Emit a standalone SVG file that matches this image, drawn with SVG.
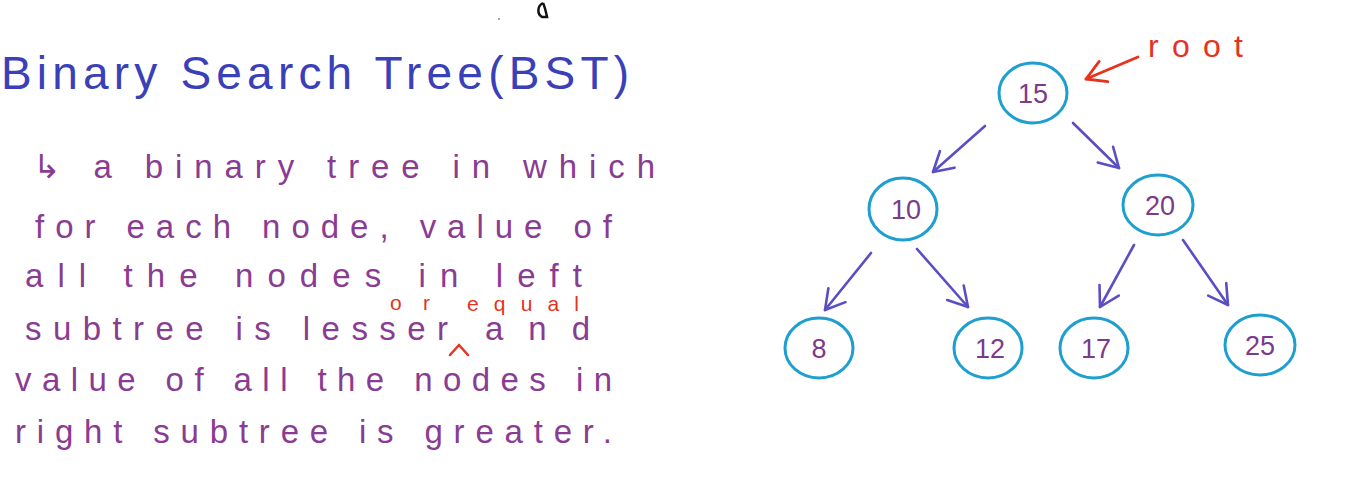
<svg xmlns="http://www.w3.org/2000/svg" width="1355" height="486" viewBox="0 0 1355 486">
<style>
.title{font-family:"Liberation Sans",sans-serif;font-size:46px;fill:#3a40b8}
.body{font-family:"Liberation Sans","DejaVu Sans",sans-serif;font-size:33px;fill:#8a3c92}
.red{font-family:"Liberation Sans",sans-serif;font-size:21px;fill:#e5331f}
.node ellipse{fill:#fff;stroke:#1f9fcf;stroke-width:3}
.node text{font-family:"Liberation Sans",sans-serif;font-size:27px;fill:#7b3a8a;text-anchor:middle}
.edge{stroke:#5a4ec4;stroke-width:2.6;fill:none;stroke-linecap:round;marker-end:url(#ah)}
</style>
<defs>
<marker id="ah" markerUnits="userSpaceOnUse" markerWidth="26" markerHeight="26" viewBox="-24 -13 26 26" refX="0" refY="0" orient="auto">
<path d="M-19,-11 L0,0 L-19,11" fill="none" stroke="#5a4ec4" stroke-width="2.6" stroke-linecap="round" stroke-linejoin="round"/>
</marker>
<marker id="ahr" markerUnits="userSpaceOnUse" markerWidth="26" markerHeight="26" viewBox="-24 -13 26 26" refX="0" refY="0" orient="auto">
<path d="M-19,-11 L0,0 L-19,11" fill="none" stroke="#e5331f" stroke-width="2.8" stroke-linecap="round" stroke-linejoin="round"/>
</marker>
</defs>
<rect width="1355" height="486" fill="#fff"/>
<path d="M543,3 C537,6 537,14 542,17 L547,17 C546,12 545,7 543,3" fill="none" stroke="#111" stroke-width="2.5"/>
<circle cx="499" cy="19" r="1" fill="#888"/>
<g id="text-block">
<text class="title" x="1" y="89" textLength="628" lengthAdjust="spacing">Binary Search Tree(BST)</text>
<text class="body" x="33" y="178" textLength="622" lengthAdjust="spacing">↳ a binary tree in which</text>
<text class="body" x="35" y="238" textLength="577" lengthAdjust="spacing">for each node, value of</text>
<text class="body" x="25" y="287" textLength="557" lengthAdjust="spacing">all the nodes in left</text>
<text class="body" x="25" y="340" textLength="423" lengthAdjust="spacing">subtree is lesser</text>
<text class="body" x="485" y="340" textLength="105" lengthAdjust="spacing">and</text>
<text class="body" x="15" y="391" textLength="597" lengthAdjust="spacing">value of all the nodes in</text>
<text class="body" x="15" y="443" textLength="597" lengthAdjust="spacing">right subtree is greater.</text>
<text class="red" x="390" y="310" textLength="40" lengthAdjust="spacing">or</text>
<text class="red" x="467" y="311" textLength="112" lengthAdjust="spacing">equal</text>
<polyline points="450,355 459,345 468,355" fill="none" stroke="#e5331f" stroke-width="2.5" stroke-linecap="round"/>
</g>
<g id="connectors">
<line class="edge" x1="985" y1="126" x2="933" y2="172"/>
<line class="edge" x1="1073" y1="123" x2="1119" y2="168"/>
<line class="edge" x1="871" y1="253" x2="825" y2="310"/>
<line class="edge" x1="917" y1="249" x2="968" y2="307"/>
<line class="edge" x1="1134" y1="245" x2="1100" y2="307"/>
<line class="edge" x1="1183" y1="240" x2="1228" y2="305"/>
<line x1="1138" y1="57" x2="1086" y2="79" stroke="#e5331f" stroke-width="2.8" stroke-linecap="round" marker-end="url(#ahr)"/>
</g>
<text id="root-label" class="red" x="1148" y="57" style="font-size:32px" textLength="95" lengthAdjust="spacing">root</text>
<g id="n15" class="node"><ellipse cx="1033" cy="93" rx="34" ry="30"/><text x="1033" y="103">15</text></g>
<g id="n10" class="node"><ellipse cx="903" cy="209" rx="34" ry="31"/><text x="906" y="219">10</text></g>
<g id="n20" class="node"><ellipse cx="1158" cy="205" rx="35" ry="30"/><text x="1160" y="215">20</text></g>
<g id="n8" class="node"><ellipse cx="819" cy="348" rx="34" ry="30"/><text x="819" y="358">8</text></g>
<g id="n12" class="node"><ellipse cx="988" cy="348" rx="34" ry="30"/><text x="990" y="358">12</text></g>
<g id="n17" class="node"><ellipse cx="1094" cy="348" rx="34" ry="30"/><text x="1096" y="358">17</text></g>
<g id="n25" class="node"><ellipse cx="1260" cy="345" rx="35" ry="30"/><text x="1260" y="355">25</text></g>
</svg>
